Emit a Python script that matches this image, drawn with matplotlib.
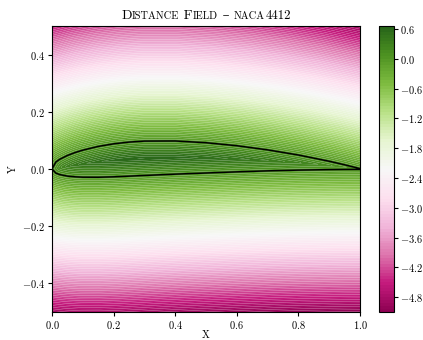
import numpy as np
import matplotlib
matplotlib.use("Agg")
import matplotlib.pyplot as plt
from matplotlib.path import Path
from matplotlib.offsetbox import TextArea, HPacker, AnchoredOffsetbox

plt.rcParams['font.family'] = ['cmr10', 'DejaVu Serif']
plt.rcParams['mathtext.fontset'] = 'cm'
plt.rcParams['axes.formatter.use_mathtext'] = True
plt.rcParams['axes.unicode_minus'] = True

# NACA 4412 coordinates (Selig order: upper TE -> LE -> lower TE)
x_upper = [1.0000, 0.9500, 0.9000, 0.8000, 0.7000, 0.6000, 0.5000, 0.4000, 0.3000,
           0.2500, 0.2000, 0.1500, 0.1000, 0.0750, 0.0500, 0.0250, 0.0125, 0.0000]
y_upper = [0.0013, 0.0147, 0.0271, 0.0489, 0.0669, 0.0814, 0.0919, 0.0980, 0.0976,
           0.0941, 0.0880, 0.0789, 0.0659, 0.0576, 0.0473, 0.0339, 0.0244, 0.0000]
x_lower = [0.0125, 0.0250, 0.0500, 0.0750, 0.1000, 0.1500, 0.2000, 0.2500, 0.3000,
           0.4000, 0.5000, 0.6000, 0.7000, 0.8000, 0.9000, 0.9500, 1.0000]
y_lower = [-0.0143, -0.0195, -0.0249, -0.0274, -0.0286, -0.0288, -0.0274, -0.0250, -0.0226,
           -0.0180, -0.0140, -0.0100, -0.0065, -0.0039, -0.0022, -0.0016, -0.0013]

scale = 10.15         # field = scale * signed distance (positive inside)
cbar_ticks = [0.6, 0.0, -0.6, -1.2, -1.8, -2.4, -3.0, -3.6, -4.2, -4.8]

px = np.array(x_upper + x_lower)
py = np.array(y_upper + y_lower)

# grid
gx, gy = np.meshgrid(np.linspace(0, 1, 301), np.linspace(-0.5, 0.5, 301))
pts = np.column_stack([gx.ravel(), gy.ravel()])

# distance to polygon segments
ax0, ay0 = px[:-1], py[:-1]
bx, by = px[1:], py[1:]
dx, dy = bx - ax0, by - ay0
L2 = dx**2 + dy**2
t = ((pts[:, 0:1] - ax0) * dx + (pts[:, 1:2] - ay0) * dy) / L2
t = np.clip(t, 0, 1)
cx = ax0 + t * dx
cy = ay0 + t * dy
d = np.sqrt((pts[:, 0:1] - cx)**2 + (pts[:, 1:2] - cy)**2).min(axis=1)
inside = Path(np.column_stack([px, py])).contains_points(pts)
field = np.where(inside, d, -d) * scale
field = field.reshape(gx.shape)

fig = plt.figure(figsize=(4.23, 3.4), dpi=100)
ax = fig.add_axes([52/423, 1 - 312/340, 308/423, 286/340])
cax = fig.add_axes([379/423, 1 - 312/340, 15/423, 286/340])

cs = ax.contourf(gx, gy, field, levels=100, cmap='PiYG', antialiased=True)
ax.plot(px, py, color='k', lw=1.1)
ax.set_xlim(0, 1)
ax.set_ylim(-0.5, 0.5)
ax.set_xticks([0.0, 0.2, 0.4, 0.6, 0.8, 1.0])
ax.set_yticks([-0.4, -0.2, 0.0, 0.2, 0.4])
ax.tick_params(labelsize=7.5, length=3, width=0.8, pad=2)
ax.set_xlabel('X', fontsize=7.5, labelpad=-0.5)
ax.set_ylabel('Y', fontsize=7.5, labelpad=3)
for s in ax.spines.values():
    s.set_linewidth(0.8)

cb = fig.colorbar(cs, cax=cax, ticks=cbar_ticks)
cb.ax.tick_params(labelsize=7.5, length=3, width=0.8, pad=1.2)
cb.outline.set_linewidth(0.8)

# small-caps title
parts = [("D", 9.9), ("ISTANCE", 7.5), (" F", 9.9), ("IELD", 7.5), (" \u2013 ", 9.9),
         ("NACA", 7.5), ("4412", 9.3)]
boxes = [TextArea(s, textprops=dict(fontsize=fs)) for s, fs in parts]
pack = HPacker(children=boxes, align="baseline", pad=0, sep=0)
anch = AnchoredOffsetbox(loc='lower center', child=pack, frameon=False, pad=0,
                         borderpad=0.3, bbox_to_anchor=(0.5, 1.0),
                         bbox_transform=ax.transAxes)
ax.add_artist(anch)

fig.savefig("out.png", dpi=100)
